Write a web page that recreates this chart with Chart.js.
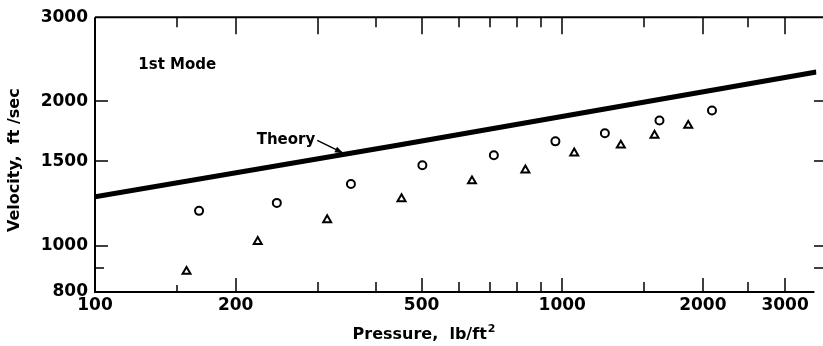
<!DOCTYPE html>
<html><head><meta charset="utf-8">
<script src="https://cdn.jsdelivr.net/npm/chart.js@4"></script>
<style>html,body{margin:0;padding:0;background:#fff}#wrap{width:823px;height:346px}canvas{display:block}</style>
</head><body>
<div id="wrap"><canvas id="c" width="823" height="346"></canvas></div>
<script>
// ---- data ----
const circlePressure = [167, 245, 353, 502, 714, 967, 1234, 1615, 2092];
const circleVelocity = [1182, 1228, 1345, 1472, 1544, 1651, 1716, 1826, 1915];
const trianglePressure = [157, 223, 314, 453, 641, 834, 1061, 1335, 1576, 1861];
const triangleVelocity = [883, 1019, 1132, 1252, 1364, 1438, 1560, 1620, 1699, 1782];
const theoryPressure = [100, 444, 3500];
const theoryVelocity = [1264, 1620, 2305];
const xTicks = [100, 150, 200, 300, 400, 500, 600, 700, 800, 900, 1000, 1500, 2000, 2500, 3000];
const xLabels = [100, 200, 500, 1000, 2000, 3000];
const xTopMajor = [200, 300, 500, 1000, 2000, 3000];
const yTicks = [800, 900, 1000, 1500, 2000, 3000];
const yLabels = [800, 1000, 1500, 2000, 3000];
const modeText = '1st Mode';
const theoryText = 'Theory';
const xTitleMain = 'Pressure,  lb/ft';
const xTitleSup = '2';
const yTitle = 'Velocity,  ft /sec';

const FONT = 'DejaVu Sans';
const pts = (xs, ys) => xs.map((x, i) => ({x: x, y: ys[i]}));

const framePlugin = {
  id: 'frame',
  afterDatasetsDraw(chart) {
    const ctx = chart.ctx, a = chart.chartArea;
    const xs = chart.scales.x, ys = chart.scales.y;
    ctx.save();
    ctx.strokeStyle = '#000';
    ctx.lineCap = 'butt';
    // frame
    ctx.lineWidth = 2;
    ctx.beginPath();
    ctx.moveTo(a.left, a.top); ctx.lineTo(a.left, a.bottom); ctx.lineTo(a.right - 2, a.bottom);
    ctx.moveTo(a.left, a.top); ctx.lineTo(chart.width, a.top);
    ctx.stroke();
    // inward ticks
    ctx.lineWidth = 1.5;
    ctx.beginPath();
    xTicks.forEach(v => {
      if (v === 100) return;
      const px = Math.round(xs.getPixelForValue(v));
      const lb = xLabels.includes(v) ? 14 : (v === 150 ? 7 : 10);
      ctx.moveTo(px, a.bottom); ctx.lineTo(px, a.bottom - lb);
      const lt = xTopMajor.includes(v) ? 17 : 10;
      ctx.moveTo(px, a.top); ctx.lineTo(px, a.top + lt);
    });
    yTicks.forEach(v => {
      if (v === 800 || v === 3000) return;
      const py = Math.round(ys.getPixelForValue(v));
      const l = yLabels.includes(v) ? 13 : 9;
      ctx.moveTo(a.left, py); ctx.lineTo(a.left + l, py);
      ctx.moveTo(chart.width, py); ctx.lineTo(chart.width - 9, py);
    });
    ctx.stroke();
    ctx.fillStyle = '#000';
    // "1st Mode"
    ctx.font = 'bold 15px "' + FONT + '"';
    ctx.textAlign = 'center'; ctx.textBaseline = 'middle';
    ctx.fillText(modeText, xs.getPixelForValue(150), ys.getPixelForValue(2386));
    // Theory label with arrow
    const tx = xs.getPixelForValue(299), ty = ys.getPixelForValue(1659);
    const hx = xs.getPixelForValue(340), hy = ys.getPixelForValue(1560);
    ctx.font = 'bold 15px "' + FONT + '"';
    ctx.textAlign = 'right';
    ctx.fillText(theoryText, tx - 2, ty);
    ctx.lineWidth = 1.6;
    ctx.beginPath(); ctx.moveTo(tx, ty); ctx.lineTo(hx, hy); ctx.stroke();
    const ang = Math.atan2(hy - ty, hx - tx);
    ctx.beginPath();
    ctx.moveTo(hx, hy);
    ctx.lineTo(hx - 9 * Math.cos(ang - 0.35), hy - 9 * Math.sin(ang - 0.35));
    ctx.lineTo(hx - 9 * Math.cos(ang + 0.35), hy - 9 * Math.sin(ang + 0.35));
    ctx.closePath(); ctx.fill();
    // x axis title (with superscript)
    ctx.textAlign = 'left'; ctx.textBaseline = 'alphabetic';
    const mainFont = 'bold 16px "' + FONT + '"', supFont = 'bold 11px "' + FONT + '"';
    ctx.font = mainFont; const w1 = ctx.measureText(xTitleMain).width;
    ctx.font = supFont; const w2 = ctx.measureText(xTitleSup).width;
    const cx = xs.getPixelForValue(506), x0 = cx - (w1 + w2 + 1) / 2, base = a.bottom + 47;
    ctx.font = mainFont; ctx.fillText(xTitleMain, x0, base);
    ctx.font = supFont; ctx.fillText(xTitleSup, x0 + w1 + 1, base - 7);
    // y axis title
    ctx.save();
    ctx.translate(15, ys.getPixelForValue(1508));
    ctx.rotate(-Math.PI / 2);
    ctx.font = 'bold 16px "' + FONT + '"';
    ctx.textAlign = 'center'; ctx.textBaseline = 'middle';
    ctx.fillText(yTitle, 0, 0);
    ctx.restore();
    ctx.restore();
  }
};

const tickFont = {family: FONT, size: 17, weight: 'bold'};

new Chart(document.getElementById('c'), {
  type: 'scatter',
  data: {
    datasets: [
      {label: 'Theory', data: pts(theoryPressure, theoryVelocity), showLine: true,
       borderColor: '#000', borderWidth: 5, pointRadius: 0, fill: false, tension: 0},
      {label: 'Circles', data: pts(circlePressure, circleVelocity), pointStyle: 'circle',
       pointRadius: 4, borderWidth: 2, borderColor: '#000', backgroundColor: '#fff'},
      {label: 'Triangles', data: pts(trianglePressure, triangleVelocity), pointStyle: 'triangle',
       pointRadius: 4.6, borderWidth: 2, borderColor: '#000', backgroundColor: '#fff'}
    ]
  },
  options: {
    responsive: false, animation: false, devicePixelRatio: 1,
    layout: {padding: {top: 17, right: 1, left: 0, bottom: 0}},
    plugins: {legend: {display: false}, tooltip: {enabled: false}},
    scales: {
      x: {
        type: 'logarithmic', min: 100, max: 3500,
        afterBuildTicks: s => { s.ticks = xTicks.map(v => ({value: v})); },
        afterFit: s => { s.height = 54; },
        ticks: {autoSkip: false, maxRotation: 0, minRotation: 0, color: '#000', font: tickFont, padding: 3,
                callback: v => xLabels.includes(v) ? String(v) : ''},
        grid: {display: false, drawTicks: false},
        border: {display: false},
        title: {display: false}
      },
      y: {
        type: 'logarithmic', min: 800, max: 3000,
        afterBuildTicks: s => { s.ticks = yTicks.map(v => ({value: v})); },
        afterFit: s => { s.width = 95; },
        ticks: {autoSkip: false, color: '#000', font: tickFont, padding: 7,
                callback: v => yLabels.includes(v) ? String(v) : ''},
        grid: {display: false, drawTicks: false},
        border: {display: false},
        title: {display: false}
      }
    }
  },
  plugins: [framePlugin]
});
</script>
</body></html>
